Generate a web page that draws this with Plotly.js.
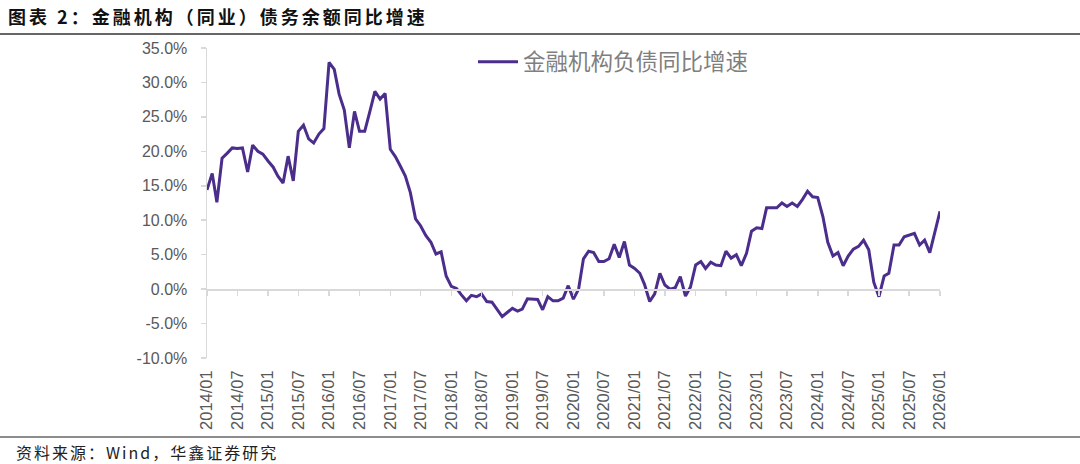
<!DOCTYPE html>
<html>
<head>
<meta charset="utf-8">
<script src="https://cdn.plot.ly/plotly-3.0.1.min.js"></script>
<style>
html,body{margin:0;padding:0;background:#fff;}
#chart{width:1080px;height:464px;}
#chart .gtitle{letter-spacing:3px;}
#chart .annotation-text{letter-spacing:2px;}
</style>
</head>
<body>
<div id="chart"></div>
<script>
// ---- Data ----
const startYear = 2014;
const startMonth = 1;
const monthCount = 145; // 2014/01 .. 2026/01

const seriesName = "金融机构负债同比增速";
const yoyGrowth = [
  14.4, 16.8, 12.6, 19.0, 19.7, 20.5, 20.4, 20.5, 17.0, 20.9, 20.0, 19.6,
  18.6, 17.7, 16.4, 15.4, 19.3, 15.7, 22.9, 23.8, 21.8, 21.2, 22.5, 23.3,
  32.9, 31.9, 28.3, 26.0, 20.5, 25.8, 22.9, 22.9, 25.8, 28.7, 27.6, 28.4,
  20.3, 19.2, 17.9, 16.4, 14.0, 10.2, 9.2, 7.8, 6.8, 5.1, 5.4, 1.9,
  0.4, 0.1, -0.8, -1.7, -0.9, -1.1, -0.7, -1.8, -1.9, -3.0, -4.0, -3.4,
  -2.8, -3.2, -2.9, -1.4, -1.5, -1.5, -3.0, -1.1, -1.7, -1.7, -1.3, 0.5,
  -1.45, 0.0, 4.4, 5.5, 5.3, 4.0, 4.0, 4.4, 6.5, 4.6, 6.9, 3.5,
  3.0, 2.3, 0.7, -1.8, -0.7, 2.3, 0.6, 0.0, 0.2, 1.8, -1.0, 0.3,
  3.5, 4.0, 3.0, 3.9, 3.5, 3.4, 5.5, 4.5, 5.0, 3.4, 5.2, 8.4,
  8.9, 8.8, 11.8, 11.8, 11.8, 12.5, 12.0, 12.5, 12.0, 13.0, 14.2, 13.4,
  13.3, 10.5, 6.8, 4.8, 5.3, 3.4, 4.8, 5.8, 6.2, 7.1, 5.7, 1.0,
  -1.1, 1.9, 2.3, 6.4, 6.4, 7.6, 7.9, 8.1, 6.4, 7.1, 5.3, 8.2,
  11.3
];
const yTickVals = [-10, -5, 0, 5, 10, 15, 20, 25, 30, 35];
const yTickText = yTickVals.map(v => v.toFixed(1) + "%");

const titleText = "图表 2：金融机构（同业）债务余额同比增速";
const sourceText = "资料来源：Wind，华鑫证券研究";

// month categories
const months = [];
for (let k = 0; k < monthCount; k++) {
  const y = startYear + Math.floor((startMonth - 1 + k) / 12);
  const m = ((startMonth - 1 + k) % 12) + 1;
  months.push(y + "-" + String(m).padStart(2, "0") + "-01");
}

const lineColor = "#4B2D8C";
const gridGrey = "#d9d9d9";

const traces = [
  {
    x: months, y: yoyGrowth, type: "scatter", mode: "lines",
    name: seriesName, line: {color: lineColor, width: 3},
    xaxis: "x", yaxis: "y"
  },
  {
    x: months, y: yoyGrowth, type: "scatter", mode: "lines",
    line: {color: "rgba(0,0,0,0)", width: 0}, showlegend: false,
    hoverinfo: "skip", xaxis: "x2", yaxis: "y"
  }
];

const xRange = [months[0], months[months.length - 1]];
const yMin = -10, yMax = 35;

const layout = {
  width: 1080, height: 464,
  margin: {l: 207, r: 140, t: 48, b: 106},
  paper_bgcolor: "#fff", plot_bgcolor: "#fff",
  font: {family: "Liberation Sans, Arial, sans-serif", color: "#595959"},
  title: {
    text: "<b>" + titleText + "</b>",
    xref: "container", yref: "container",
    x: 8 / 1080, xanchor: "left",
    y: 1 - 18 / 464, yanchor: "middle",
    font: {family: "Noto Sans CJK SC, sans-serif", size: 18, color: "#111"}
  },
  showlegend: true,
  legend: {
    x: (473 - 207) / 733, xanchor: "left",
    y: (358 - 62) / 310, yanchor: "middle",
    bgcolor: "rgba(0,0,0,0)",
    font: {family: "Noto Sans CJK SC, sans-serif", size: 22.5, color: "#7f7f7f"},
    itemwidth: 40
  },
  xaxis: {
    type: "date", range: xRange,
    tickformat: "%Y/%m", dtick: "M6", tick0: months[0],
    tickangle: -90,
    showgrid: false, zeroline: false, showline: false,
    ticks: "", ticklabelstandoff: 8,
    tickfont: {size: 16.5, color: "#595959"},
    fixedrange: true
  },
  xaxis2: {
    type: "date", range: xRange, matches: "x",
    overlaying: "x", anchor: "free",
    position: (0 - yMin) / (yMax - yMin),
    dtick: "M6", tick0: months[0],
    showticklabels: false, showgrid: false, zeroline: false,
    showline: true, linecolor: gridGrey, linewidth: 1.5,
    ticks: "outside", ticklen: 5, tickcolor: gridGrey, tickwidth: 1.5
  },
  yaxis: {
    range: [yMin, yMax], tickmode: "array",
    tickvals: yTickVals, ticktext: yTickText,
    showgrid: false, zeroline: false,
    showline: true, linecolor: gridGrey, linewidth: 1.5,
    ticks: "outside", ticklen: 5, tickcolor: gridGrey, tickwidth: 1.5,
    ticklabelstandoff: 10,
    tickfont: {size: 16, color: "#595959"},
    fixedrange: true
  },
  shapes: [
    {type: "line", xref: "paper", yref: "paper",
     x0: -207 / 733, x1: (1080 - 207) / 733,
     y0: (358 - 34) / 310, y1: (358 - 34) / 310,
     line: {color: "#666", width: 2}},
    {type: "line", xref: "paper", yref: "paper",
     x0: -207 / 733, x1: (1080 - 207) / 733,
     y0: (358 - 437) / 310, y1: (358 - 437) / 310,
     line: {color: "#666", width: 1.5}}
  ],
  annotations: [
    {text: sourceText, xref: "paper", yref: "paper",
     x: (14 - 207) / 733, xanchor: "left", align: "left",
     y: (358 - 452) / 310, yanchor: "middle",
     showarrow: false,
     font: {family: "Noto Sans CJK SC, sans-serif", size: 16, color: "#222"}}
  ]
};

Plotly.newPlot("chart", traces, layout, {displayModeBar: false, staticPlot: true});
</script>
</body>
</html>
